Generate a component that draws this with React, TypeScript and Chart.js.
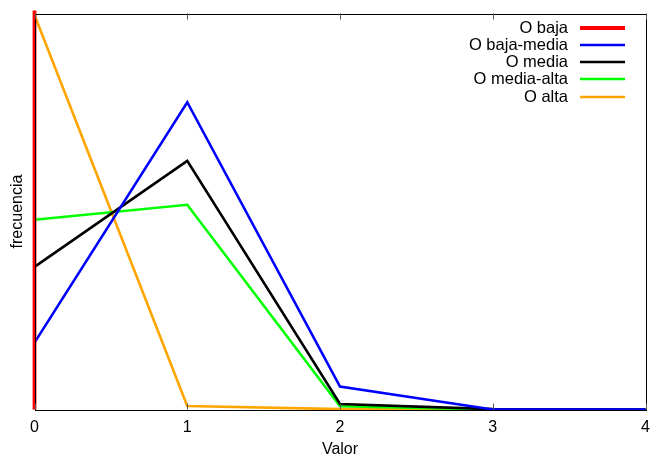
import React, { useEffect, useRef } from "react";
import { Chart, registerables } from "chart.js";
Chart.register(...registerables);

const xValues = [0, 1, 2, 3, 4];
const seriesLabels = ["O baja", "O baja-media", "O media", "O media-alta", "O alta"];
const bajaX = [0, 0];
const bajaY = [0, 1.05];
const bajaMedia = [0.169, 0.776, 0.058, 0.0, 0.0];
const media = [0.36, 0.628, 0.014, 0.001, 0.0];
const mediaAlta = [0.479, 0.517, 0.008, 0.0, 0.0];
const alta = [0.996, 0.009, 0.001, 0.0, 0.0];
const colors = ["#ff0000", "#0000ff", "#000000", "#00ff00", "#ffa500"];
const lineWidths = [3.8, 2.6, 2.6, 2.6, 2.6];
const xTicks = [0, 1, 2, 3, 4];
const FONT = "'Liberation Sans', Arial, sans-serif";

const framePlugin = {
  id: "frameLegend",
  afterDatasetsDraw(chart: any) {
    const { ctx, chartArea } = chart;
    const { left, right, top, bottom } = chartArea;
    const xs = chart.scales.x;
    ctx.save();
    ctx.strokeStyle = "#000";
    ctx.lineWidth = 1;
    ctx.strokeRect(Math.round(left) + 0.5, Math.round(top) + 0.5, Math.round(right - left), Math.round(bottom - top));
    ctx.strokeStyle = "#555";
    xTicks.forEach((t) => {
      const px = Math.round(xs.getPixelForValue(t)) + 0.5;
      ctx.beginPath();
      ctx.moveTo(px, bottom);
      ctx.lineTo(px, bottom - 6);
      ctx.moveTo(px, top);
      ctx.lineTo(px, top + 6);
      ctx.stroke();
    });
    // legend
    ctx.font = "16.5px " + FONT;
    ctx.textAlign = "right";
    ctx.textBaseline = "middle";
    chart.data.datasets.forEach((ds: any, i: number) => {
      const y = 27.5 + i * 17.3;
      ctx.fillStyle = "#000";
      ctx.fillText(ds.label, 568, y + 0.5);
      ctx.strokeStyle = ds.borderColor;
      ctx.lineWidth = ds.borderWidth;
      ctx.beginPath();
      ctx.moveTo(580, Math.round(y));
      ctx.lineTo(625, Math.round(y));
      ctx.stroke();
    });
    ctx.restore();
  },
};

export default function App() {
  const ref = useRef<HTMLCanvasElement>(null);
  useEffect(() => {
    document.body.style.margin = "0";
    const series = [bajaMedia, media, mediaAlta, alta];
    const datasets: any[] = [
      {
        label: seriesLabels[0],
        data: bajaX.map((x, i) => ({ x, y: bajaY[i] })),
        borderColor: colors[0],
        borderWidth: lineWidths[0],
      },
      ...series.map((s, k) => ({
        label: seriesLabels[k + 1],
        data: xValues.map((x, i) => ({ x, y: s[i] })),
        borderColor: colors[k + 1],
        borderWidth: lineWidths[k + 1],
      })),
    ].map((d) => ({ ...d, pointRadius: 0, fill: false, tension: 0, clip: 3 }));
    const chart = new Chart(ref.current!, {
      type: "line",
      data: { datasets },
      options: {
        animation: false,
        responsive: false,
        layout: { padding: { top: 13.5, right: 6.5 } },
        plugins: { legend: { display: false }, tooltip: { enabled: false } },
        scales: {
          x: {
            type: "linear",
            min: 0,
            max: 4,
            grid: { display: false, drawTicks: false },
            border: { display: false },
            afterFit: (s: any) => { s.height = 49.5; s.paddingLeft = 0; s.paddingRight = 0; },
            afterBuildTicks: (s: any) => { s.ticks = xTicks.map((v) => ({ value: v })); },
            ticks: { padding: 8, color: "#000", font: { family: FONT, size: 16 }, maxRotation: 0 },
            title: { display: true, text: "Valor", color: "#000", font: { family: FONT, size: 16 }, padding: 0 },
          },
          y: {
            min: 0,
            max: 1,
            grid: { display: false, drawTicks: false },
            border: { display: false },
            ticks: { display: false },
            afterFit: (s: any) => { s.width = 34.5; s.paddingTop = 0; s.paddingBottom = 0; },
            title: { display: true, text: "frecuencia", color: "#000", font: { family: FONT, size: 16 }, padding: 8 },
          },
        },
      },
      plugins: [framePlugin],
    });
    return () => chart.destroy();
  }, []);
  return (
    <div style={{ position: "absolute", left: 0, top: 0, width: 652, height: 459, background: "#fff" }}>
      <canvas ref={ref} width={652} height={459} style={{ width: 652, height: 459 }} />
    </div>
  );
}
